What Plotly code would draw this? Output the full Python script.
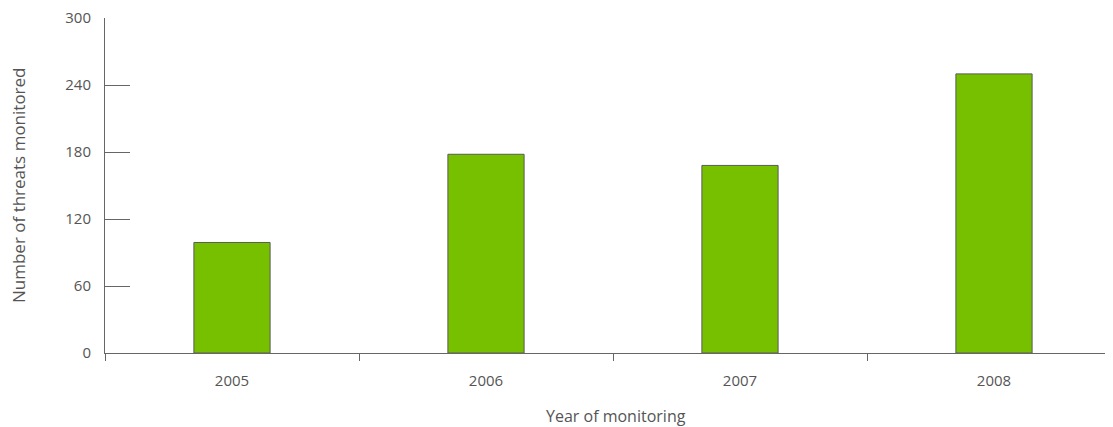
import plotly.graph_objects as go

years = ["2005", "2006", "2007", "2008"]
threats = [99, 178, 168, 250]
y_ticks = [0, 60, 120, 180, 240, 300]

fig = go.Figure(go.Bar(x=years, y=threats, width=0.3,
                       marker=dict(color="#76c000", line=dict(color="#5a5a5a", width=1))))

# page body has an 8px margin, so the figure is offset by 8px
fig.update_layout(
    width=1105, height=419,
    margin=dict(l=97, r=0, t=10, b=74),
    plot_bgcolor="white", paper_bgcolor="white",
    font=dict(family="Open Sans", size=15, color="#555555"),
    showlegend=False,
)
fig.update_xaxes(
    type="category", range=[-0.5, -0.5 + 1008 / 254], automargin=False,
    showline=True, linecolor="#666666", linewidth=1,
    ticks="outside", tickson="boundaries", ticklen=7, tickcolor="#666666",
    ticklabelstandoff=14, showgrid=False,
)
fig.update_yaxes(
    range=[0, 300.05], tickvals=y_ticks, automargin=False,
    showline=True, linecolor="#666666", linewidth=1,
    ticks="inside", ticklen=25, tickcolor="#666666",
    ticklabelstandoff=10, ticklabeloverflow="allow",
    showgrid=False, zeroline=False,
)
fig.add_annotation(text="Year of monitoring", xref="paper", yref="paper",
                   x=(616 - 105) / 1008, y=0, xanchor="center", yanchor="middle",
                   yshift=-63, showarrow=False, font=dict(size=16))
fig.add_annotation(text="Number of threats monitored", xref="paper", yref="paper",
                   x=0, y=(353 - 185) / 335, xanchor="center", yanchor="middle",
                   xshift=-87, textangle=-90, showarrow=False, font=dict(size=17))

fig.write_html("out.html")
